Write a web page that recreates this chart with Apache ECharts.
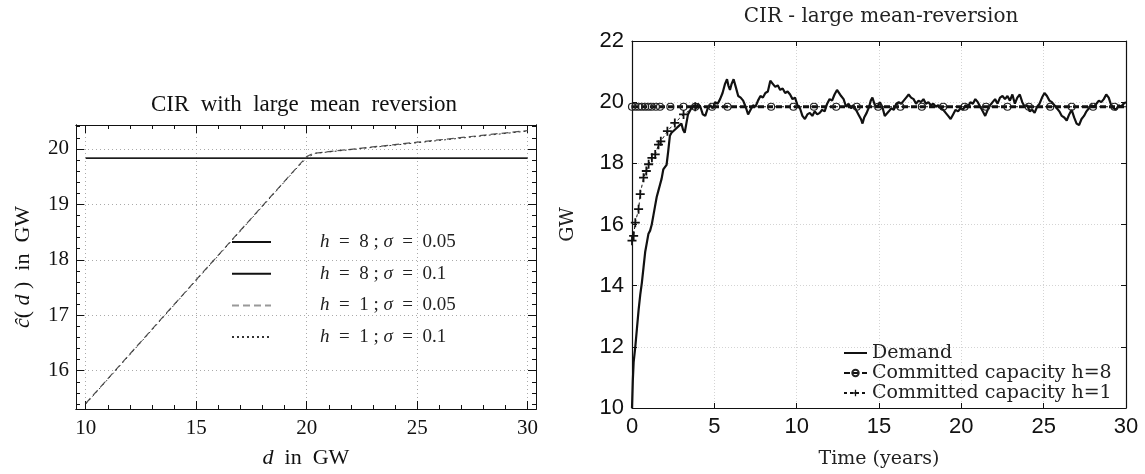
<!DOCTYPE html>
<html>
<head>
<meta charset="utf-8">
<script src="https://cdn.jsdelivr.net/npm/echarts@6/dist/echarts.min.js"></script>
<style>
  html, body { margin: 0; padding: 0; background: #fff; }
  #main { width: 1145px; height: 474px; }
</style>
</head>
<body>
<div id="main"></div>
<script>
// ---- left panel: c-hat(d) ----
let leftNames = ["h = 8 ; σ = 0.05", "h = 8 ; σ = 0.1", "h = 1 ; σ = 0.05", "h = 1 ; σ = 0.1"];
let h8s005X = [10, 30];
let h8s005Y = [19.83, 19.83];
let h8s01X = [10, 30];
let h8s01Y = [19.84, 19.84];
let h1s005X = [10, 15, 19.5, 20, 20.3, 25, 30];
let h1s005Y = [15.41, 17.64, 19.64, 19.86, 19.92, 20.12, 20.33];
let h1s01X = [10, 15, 19.5, 20, 20.4, 25, 30];
let h1s01Y = [15.40, 17.63, 19.63, 19.84, 19.92, 20.11, 20.32];
let leftXMajor = [10, 15, 20, 25, 30];
let leftXMinor = [11, 12, 13, 14, 16, 17, 18, 19, 21, 22, 23, 24, 26, 27, 28, 29];
let leftYMajor = [16, 17, 18, 19, 20];
let leftYMinor = [15.4, 15.6, 15.8, 16.2, 16.4, 16.6, 16.8, 17.2, 17.4, 17.6, 17.8,
    18.2, 18.4, 18.6, 18.8, 19.2, 19.4, 19.6, 19.8, 20.2, 20.4];

// ---- right panel: simulation ----
let rightNames = ["Demand", "Committed capacity h=8", "Committed capacity h=1"];
let demandT = [0, 0.05, 0.1, 0.2, 0.3, 0.4, 0.5, 0.6, 0.7, 0.8, 0.9, 1.0, 1.1, 1.2, 1.3, 1.4, 1.5, 1.6, 1.7, 1.8, 1.9,
    2.0, 2.1, 2.2, 2.3, 2.4, 2.5, 2.6, 2.7, 2.8, 2.9, 3.0, 3.1, 3.2, 3.3, 3.4, 3.5, 3.6, 3.75, 3.9,
    4.0, 4.15, 4.3, 4.45, 4.6, 4.75, 4.9, 5.05, 5.2, 5.35, 5.5, 5.65, 5.77, 5.85, 5.95, 6.05, 6.17, 6.3, 6.45, 6.6, 6.75, 6.9,
    7.05, 7.2, 7.35, 7.5, 7.65, 7.8, 7.95, 8.1, 8.25, 8.4, 8.55, 8.7, 8.85, 9.0, 9.15, 9.3, 9.45, 9.6, 9.75, 9.9,
    10.05, 10.2, 10.35, 10.5, 10.65, 10.8, 10.95, 11.1, 11.25, 11.4, 11.55, 11.7, 11.85, 12.0, 12.15, 12.3, 12.45, 12.55, 12.7, 12.85,
    13.0, 13.15, 13.3, 13.45, 13.6, 13.75, 13.9, 14.0, 14.1, 14.25, 14.4, 14.5, 14.6, 14.75, 14.9, 15.05, 15.2, 15.35, 15.45, 15.6, 15.75, 15.9,
    16.05, 16.2, 16.35, 16.5, 16.65, 16.8, 16.95, 17.1, 17.25, 17.4, 17.55, 17.7, 17.85, 18.0, 18.15, 18.3, 18.45, 18.6, 18.75, 18.9,
    19.05, 19.2, 19.35, 19.5, 19.65, 19.8, 19.95, 20.1, 20.25, 20.4, 20.55, 20.7, 20.85, 21.0, 21.15, 21.3, 21.45, 21.6, 21.75, 21.9,
    22.05, 22.2, 22.35, 22.5, 22.65, 22.8, 22.95, 23.1, 23.25, 23.4, 23.55, 23.7, 23.85, 24.0, 24.15, 24.3, 24.45, 24.6, 24.75, 24.9,
    25.05, 25.2, 25.35, 25.5, 25.65, 25.8, 25.95, 26.1, 26.25, 26.4, 26.55, 26.7, 26.85, 27.0, 27.15, 27.3, 27.45, 27.6, 27.75, 27.9,
    28.05, 28.2, 28.35, 28.5, 28.65, 28.8, 28.95, 29.1, 29.25, 29.4, 29.55, 29.7, 29.85, 30.0];
let demandV = [10.0, 10.9, 11.5, 12.0, 12.6, 13.2, 13.7, 14.1, 14.6, 15.1, 15.4, 15.7, 15.8, 16.0, 16.3, 16.6, 16.9, 17.1, 17.3, 17.5, 17.8,
    17.85, 17.95, 18.4, 18.9, 19.0, 18.95, 19.1, 19.05, 19.2, 19.15, 19.3, 19.1, 19.0, 19.3, 19.6, 19.55, 19.8, 19.9, 19.8,
    19.95, 19.85, 19.6, 19.55, 19.8, 19.9, 19.8, 20.0, 19.95, 20.1, 20.3, 20.6, 20.75, 20.55, 20.4, 20.6, 20.75, 20.5, 20.2, 20.15, 20.05, 19.85,
    19.6, 19.75, 19.9, 19.85, 20.05, 20.2, 20.15, 20.3, 20.35, 20.7, 20.6, 20.5, 20.55, 20.4, 20.45, 20.3, 20.35, 20.25, 20.1, 20.15,
    19.9, 19.8, 19.55, 19.45, 19.6, 19.65, 19.55, 19.7, 19.6, 19.65, 19.75, 19.7, 19.95, 20.1, 20.05, 20.25, 20.4, 20.45, 20.2, 20.1,
    19.85, 19.95, 19.8, 19.9, 19.75, 19.6, 19.45, 19.3, 19.5, 19.65, 19.85, 20.05, 20.15, 19.9, 19.85, 20.0, 19.85, 19.55, 19.5, 19.7, 19.8, 19.75,
    19.95, 20.0, 19.95, 20.05, 20.15, 20.25, 20.15, 20.1, 19.95, 20.05, 20.0, 20.1, 19.95, 20.0, 19.9, 19.95, 19.85, 19.9, 19.8, 19.75,
    19.65, 19.55, 19.45, 19.6, 19.75, 19.7, 19.8, 19.75, 19.9, 19.85, 20.0, 19.95, 20.1, 20.0, 19.85, 19.7, 19.55, 19.75, 19.9, 20.0,
    20.1, 19.95, 20.15, 20.2, 20.1, 20.2, 20.05, 20.25, 19.95, 20.15, 20.25, 20.0, 19.85, 19.9, 19.7, 19.75, 19.65, 19.85, 19.95, 20.15,
    20.3, 20.2, 20.05, 20.0, 19.9, 19.8, 19.7, 19.55, 19.5, 19.4, 19.6, 19.75, 19.5, 19.3, 19.25, 19.45, 19.55, 19.7, 19.8, 19.9,
    19.85, 19.95, 20.05, 20.0, 20.1, 20.25, 20.15, 19.9, 19.8, 19.75, 19.9, 19.85, 19.95, 20.0];
let cap8T = [0, 0.2, 0.4, 0.6, 0.8, 1.0, 1.2, 1.45, 1.7, 2.33, 3.13, 3.84, 4.86, 5.8, 8.45, 9.8, 11.05, 12.4, 13.65,
    14.95, 16.3, 17.6, 18.9, 20.2, 21.5, 22.8, 24.1, 25.4, 26.7, 28.0, 29.3, 30];
let cap8V = [19.85, 19.85, 19.85, 19.85, 19.85, 19.85, 19.85, 19.85, 19.85, 19.85, 19.85, 19.85, 19.85, 19.85, 19.85, 19.85,
    19.85, 19.85, 19.85, 19.85, 19.85, 19.85, 19.85, 19.85, 19.85, 19.85, 19.85, 19.85, 19.85, 19.85, 19.85, 19.85];
let cap1T = [0, 0.1, 0.2, 0.4, 0.5, 0.7, 0.87, 1.01, 1.21, 1.41, 1.61, 1.75, 2.15, 2.6, 3.13, 3.84, 30];
let cap1V = [15.47, 15.63, 16.06, 16.5, 16.99, 17.53, 17.75, 17.97, 18.18, 18.29, 18.61, 18.72, 19.05, 19.32, 19.6, 19.85, 19.85];

const serifL = "Liberation Serif";
const serifR = "DejaVu Serif";
const plusPath = "path://M4,0h2v4h4v2h-4v4h-2v-4h-4v-2h4z";

function pairs(xs, ys) {
    return xs.map((x, i) => [x, ys[i]]);
}
// last point of a committed series: no marker on the frame
function pairsNoLastSymbol(xs, ys) {
    return xs.map((x, i) => i === xs.length - 1 ? {value: [x, ys[i]], symbol: "none"} : [x, ys[i]]);
}

let chart = echarts.init(document.getElementById("main"));

function leftX(pos, ticks, len, withLabel, withSplit) {
    return {
        gridIndex: 0, type: "value", position: pos, min: 9.56, max: 30.38,
        axisLine: {show: true, onZero: false, lineStyle: {color: "#111", width: 1}},
        axisTick: {show: true, inside: true, length: len, customValues: ticks, lineStyle: {color: "#111"}},
        axisLabel: withLabel ? {customValues: ticks, fontFamily: serifL, fontSize: 21, color: "#111", margin: 9}
            : {show: false},
        splitLine: {show: withSplit, lineStyle: {color: "#aaa", type: [1, 3]}}
    };
}
function leftY(pos, ticks, len, withLabel, withSplit) {
    return {
        gridIndex: 0, type: "value", position: pos, min: 15.31, max: 20.43,
        axisLine: {show: true, onZero: false, lineStyle: {color: "#111", width: 1}},
        axisTick: {show: true, inside: true, length: len, customValues: ticks, lineStyle: {color: "#111"}},
        axisLabel: withLabel ? {customValues: ticks, fontFamily: serifL, fontSize: 21, color: "#111", margin: 7}
            : {show: false},
        splitLine: {show: withSplit, lineStyle: {color: "#aaa", type: [1, 3]}}
    };
}

let xL0 = leftX("bottom", leftXMajor, 8, true, true);
xL0.name = "{i|d}  in  GW";
xL0.nameLocation = "middle";
xL0.nameGap = 38;
xL0.nameTextStyle = {fontFamily: serifL, fontSize: 22, color: "#111",
    rich: {i: {fontFamily: serifL, fontSize: 22, fontStyle: "italic", color: "#111"}}};
let yL0 = leftY("left", leftYMajor, 8, true, true);
yL0.name = "{i|ĉ}( {i|d} )  in  GW";
yL0.nameLocation = "middle";
yL0.nameGap = 42;
yL0.nameTextStyle = {fontFamily: serifL, fontSize: 22, color: "#111",
    rich: {i: {fontFamily: serifL, fontSize: 22, fontStyle: "italic", color: "#111"}}};

function rightAxisBase(pos, withLabel) {
    return {
        gridIndex: 1, type: "value", position: pos,
        axisLine: {show: true, onZero: false, lineStyle: {color: "#111", width: 1.2}},
        axisTick: {show: true, inside: true, length: 5, lineStyle: {color: "#111", width: 1}},
        axisLabel: withLabel ? {fontFamily: "Liberation Sans", fontSize: 22, color: "#111", margin: 8}
            : {show: false},
        splitLine: {show: withLabel, lineStyle: {color: "#d4d4d4", type: [1, 2]}}
    };
}
let xR0 = Object.assign(rightAxisBase("bottom", true), {min: 0, max: 30, interval: 5,
    name: "Time (years)", nameLocation: "middle", nameGap: 42,
    nameTextStyle: {fontFamily: serifR, fontSize: 19, color: "#222"}});
let xR1 = Object.assign(rightAxisBase("top", false), {min: 0, max: 30, interval: 5});
let yR0 = Object.assign(rightAxisBase("left", true), {min: 10, max: 22, interval: 2,
    name: "GW", nameLocation: "middle", nameGap: 54,
    nameTextStyle: {fontFamily: serifR, fontSize: 19, color: "#222"}});
let yR1 = Object.assign(rightAxisBase("right", false), {min: 10, max: 22, interval: 2});

let option = {
    animation: false,
    backgroundColor: "#fff",
    title: [
        {text: "CIR  with  large  mean  reversion", left: 304, top: 93, textAlign: "center", padding: 0,
            textStyle: {fontFamily: serifL, fontSize: 23, fontWeight: "normal", color: "#111"}},
        {text: "CIR - large mean-reversion", left: 881, top: 7, textAlign: "center", padding: 0,
            textStyle: {fontFamily: serifR, fontSize: 20, fontWeight: "normal", color: "#222"}}
    ],
    legend: [
        {
            data: [
                {name: leftNames[0]},
                {name: leftNames[1], lineStyle: {color: "#111"}},
                {name: leftNames[2], lineStyle: {color: "#999"}},
                {name: leftNames[3]}
            ],
            orient: "vertical", left: 231, top: 232, padding: 0,
            itemWidth: 39, itemHeight: 10, itemGap: 11.7,
            itemStyle: {opacity: 0},
            formatter: n => n.replace("h", "{i|h}").replace("σ", "{i|σ}").replace(/ = /g, "  =  "),
            textStyle: {fontFamily: serifL, fontSize: 19, color: "#222", lineHeight: 20, padding: [0, 0, 0, 44],
                rich: {i: {fontFamily: serifL, fontSize: 19, fontStyle: "italic", color: "#222"}}}
        },
        {
            data: [
                {name: rightNames[0], itemStyle: {opacity: 0}},
                {name: rightNames[1]},
                {name: rightNames[2]}
            ],
            orient: "vertical", left: 843, top: 343, padding: 0,
            itemWidth: 23, itemHeight: 8, itemGap: 0,
            textStyle: {fontFamily: serifR, fontSize: 19, color: "#222", lineHeight: 20}
        }
    ],
    grid: [
        {left: 76, top: 125, width: 460, height: 284},
        {left: 632, top: 41, width: 494, height: 368}
    ],
    xAxis: [
        xL0,
        leftX("bottom", leftXMinor, 4, false, false),
        leftX("top", leftXMajor, 8, false, false),
        leftX("top", leftXMinor, 4, false, false),
        xR0, xR1
    ],
    yAxis: [
        yL0,
        leftY("left", leftYMinor, 4, false, false),
        leftY("right", leftYMajor, 8, false, false),
        leftY("right", leftYMinor, 4, false, false),
        yR0, yR1
    ],
    series: [
        {name: leftNames[0], type: "line", xAxisIndex: 0, yAxisIndex: 0, symbol: "none",
            lineStyle: {color: "#111", width: 1.2}, itemStyle: {color: "#111"}, data: pairs(h8s005X, h8s005Y)},
        {name: leftNames[1], type: "line", xAxisIndex: 0, yAxisIndex: 0, symbol: "none",
            lineStyle: {color: "#444", width: 1}, itemStyle: {color: "#444"}, data: pairs(h8s01X, h8s01Y)},
        {name: leftNames[2], type: "line", xAxisIndex: 0, yAxisIndex: 0, symbol: "none",
            lineStyle: {color: "#555", width: 1.2, type: [7, 4]}, itemStyle: {color: "#555"}, data: pairs(h1s005X, h1s005Y)},
        {name: leftNames[3], type: "line", xAxisIndex: 0, yAxisIndex: 0, symbol: "none",
            lineStyle: {color: "#333", width: 1, type: [2, 3]}, itemStyle: {color: "#333"}, data: pairs(h1s01X, h1s01Y)},

        {name: rightNames[0], type: "line", xAxisIndex: 4, yAxisIndex: 4, symbol: "none", z: 2,
            lineStyle: {color: "#111", width: 2.2}, itemStyle: {color: "#111"}, data: pairs(demandT, demandV)},
        {name: rightNames[1], type: "line", xAxisIndex: 4, yAxisIndex: 4, z: 3,
            symbol: "circle", symbolSize: 7, showAllSymbol: true,
            lineStyle: {color: "#111", width: 2.8, type: [6, 3]},
            itemStyle: {color: "rgba(255,255,255,0)", borderColor: "#222", borderWidth: 1.2},
            data: pairsNoLastSymbol(cap8T, cap8V)},
        {name: rightNames[2], type: "line", xAxisIndex: 4, yAxisIndex: 4, z: 4,
            symbol: plusPath, symbolSize: 9, showAllSymbol: true,
            lineStyle: {color: "#111", width: 1, type: [3, 3]},
            itemStyle: {color: "#111"},
            data: pairsNoLastSymbol(cap1T, cap1V)}
    ]
};
chart.setOption(option);
</script>
</body>
</html>
